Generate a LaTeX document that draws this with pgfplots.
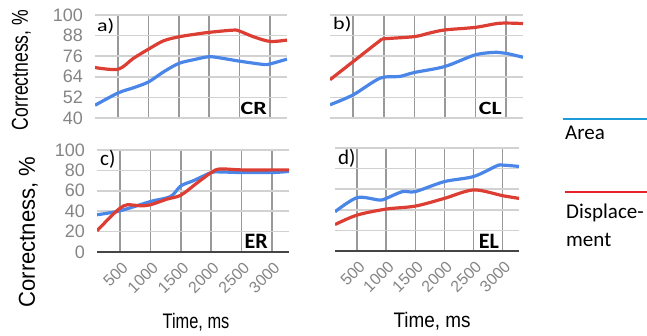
\documentclass[border=0pt]{standalone}
\usepackage{fontspec}
\setmainfont{Carlito}
\newfontfamily\arial{Liberation Sans}
\usepackage{pgfplots}
\pgfplotsset{compat=1.18}
\definecolor{lblue}{HTML}{4A86E8}
\definecolor{lred}{HTML}{DC3E33}
\definecolor{gridc}{HTML}{D2D2D2}
\definecolor{gridx}{HTML}{999999}
\definecolor{tickc}{HTML}{858585}
\definecolor{legblue}{HTML}{1C9BD8}
\definecolor{legred}{HTML}{E8232B}
\definecolor{axisc}{HTML}{454545}

\pgfplotsset{
  panel/.style={
    scale only axis, anchor=south west,
    xmin=120, xmax=3280,
    xtick={500,1000,1500,2000,2500,3000},
    xmajorgrids=true, ymajorgrids=true,
    y grid style={draw=gridc, line width=1.5pt},
    x grid style={draw=gridx, line width=1.5pt},
    axis line style={draw=none},
    major tick length=0pt,
    /pgf/number format/assume math mode=true,
    /pgf/number format/1000 sep={},
    yticklabel style={font=\arial\fontsize{18}{18}\selectfont, text=tickc, anchor=east, inner sep=0pt, xshift=-12pt},
    xticklabel style={font=\arial\fontsize{16}{16}\selectfont, text=tickc, anchor=east, inner sep=0pt, xshift=5pt, yshift=-13pt, rotate=45},
  },
  toppanel/.style={panel, width=192pt, height=103pt, ymin=40, ymax=100, ytick={40,52,64,76,88,100}, xticklabels={}},
  botpanel/.style={panel, width=192pt, height=102pt, ymin=0, ymax=100, ytick={0,20,40,60,80,100},
    axis x line=bottom, x axis line style={draw=axisc, line width=1.7pt, -}, axis y line=left, y axis line style={draw=none}},
  sA/.style={lblue, line width=3.2pt, smooth, tension=0.5},
  sD/.style={lred, line width=3.2pt, smooth, tension=0.5},
}

\begin{document}
\begin{tikzpicture}[x=1pt,y=1pt]
\useasboundingbox (0,0) rectangle (647,335);

% a) CR
\begin{axis}[toppanel, at={(95pt,217pt)}]
\addplot[sA] coordinates {(120,47.4) (500,54.6) (760,57.7) (1000,61) (1250,66.9) (1500,71.8) (1750,74) (2000,75.7) (2230,74.7) (2500,73.1) (2890,71.2) (3000,71.5) (3280,74.3)};
\addplot[sD] coordinates {(120,69.4) (500,68.4) (750,74.7) (1000,80.1) (1250,85) (1500,87.3) (1750,88.7) (2000,89.9) (2400,91.2) (2500,90.6) (2730,87.3) (3000,84.6) (3280,85.4)};
\end{axis}

% b) CL
\begin{axis}[toppanel, at={(330pt,217pt)}, width=193pt, yticklabels={}]
\addplot[sA] coordinates {(120,47.7) (500,53.5) (940,63.2) (1260,64.2) (1500,66.5) (2000,70) (2500,76.8) (2850,78.3) (3000,77.7) (3280,75.4)};
\addplot[sD] coordinates {(120,62.3) (500,72.9) (940,85.1) (1000,86.1) (1500,87.4) (1750,89.5) (2000,91.3) (2500,92.8) (2900,95.2) (3280,95)};
\end{axis}

% c) ER
\begin{axis}[botpanel, at={(97pt,83pt)}]
\addplot[sA] coordinates {(120,36.5) (500,40.4) (1000,49.5) (1330,54.4) (1500,64.8) (1710,70) (2000,77.9) (2140,78.5) (2500,77.9) (3000,77.9) (3280,79)};
\addplot[sD] coordinates {(120,20.8) (350,34.9) (500,43) (620,46.3) (840,45.3) (1000,46.3) (1270,51.8) (1500,55.7) (1760,67.4) (2000,77.9) (2140,81.4) (2500,80.5) (3000,80.5) (3280,80.5)};
\end{axis}

% d) EL
\begin{axis}[botpanel, at={(335pt,84pt)}, width=184pt, height=103pt, yticklabels={}]
\addplot[sA] coordinates {(120,38.1) (500,51.8) (880,49.5) (1000,51.1) (1280,57.7) (1500,57.7) (2000,67.4) (2500,72.3) (2900,82.7) (3000,83.4) (3280,82.1)};
\addplot[sD] coordinates {(120,25.7) (500,34.9) (1000,40.7) (1500,43.6) (2000,51.1) (2500,59.3) (3000,53.7) (3280,51.1)};
\end{axis}

% axis titles
\node[rotate=90, anchor=base, inner sep=0pt, font=\arial\fontsize{23}{23}\selectfont] at (28,265) {\scalebox{0.765}[1]{Correctness, \%}};
\node[rotate=90, anchor=base, inner sep=0pt, font=\arial\fontsize{23}{23}\selectfont] at (35,103) {\scalebox{0.96}[1]{Correctness, \%}};
\node[anchor=base, inner sep=0pt, font=\arial\fontsize{21}{21}\selectfont] at (196,7) {\scalebox{0.78}[1]{Time, ms}};
\node[anchor=base, inner sep=0pt, font=\arial\fontsize{21}{21}\selectfont] at (432,8) {\scalebox{0.9}[1]{Time, ms}};

% panel letters
\node[anchor=base west, inner sep=0pt, font=\fontsize{22}{22}\selectfont] at (97,303) {\scalebox{1}[0.8]{a)}};
\node[anchor=base west, inner sep=0pt, font=\fontsize{22}{22}\selectfont] at (333,305) {\scalebox{1}[0.8]{b)}};
\node[anchor=base west, inner sep=0pt, font=\fontsize{21}{21}\selectfont] at (100,170) {c)};
\node[anchor=base west, inner sep=0pt, font=\fontsize{21}{21}\selectfont] at (338,171) {d)};
\node[anchor=base east, inner sep=0pt, font=\bfseries\fontsize{24}{24}\selectfont] at (267,220) {\scalebox{1}[0.78]{CR}};
\node[anchor=base east, inner sep=0pt, font=\bfseries\fontsize{24}{24}\selectfont] at (502,220) {\scalebox{1}[0.78]{CL}};
\node[anchor=base east, inner sep=0pt, font=\bfseries\fontsize{22}{22}\selectfont] at (268,87) {ER};
\node[anchor=base east, inner sep=0pt, font=\bfseries\fontsize{22}{22}\selectfont] at (499,87) {EL};

% legend
\draw[legblue, line width=2.3pt] (563,216) -- (647,216);
\node[anchor=base west, inner sep=0pt, font=\fontsize{21}{21}\selectfont] at (565,195) {Area};
\draw[legred, line width=2.3pt] (565,143) -- (647,143);
\node[anchor=base west, inner sep=0pt, font=\fontsize{21}{21}\selectfont] at (566,117) {Displace-};
\node[anchor=base west, inner sep=0pt, font=\fontsize{21}{21}\selectfont] at (566,89) {ment};
\end{tikzpicture}
\end{document}
